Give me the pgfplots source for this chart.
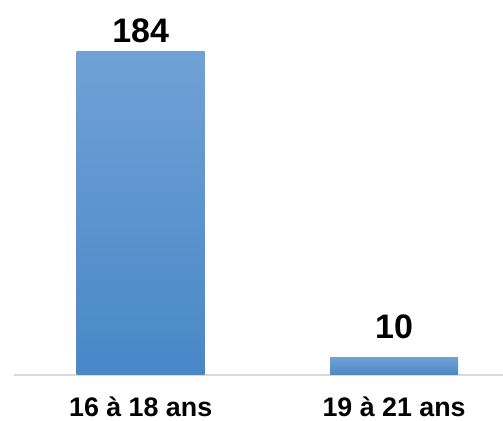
\documentclass[border=0pt]{standalone}
\usepackage{fontspec}
\setmainfont{Liberation Sans}
\usepackage{pgfplots}
\pgfplotsset{compat=1.18}
\definecolor{bartop}{RGB}{112,161,213}
\definecolor{barbot}{RGB}{72,136,200}
\definecolor{axisgray}{RGB}{217,217,217}
\begin{document}
\begin{tikzpicture}
\begin{axis}[
    scale only axis,
    width=244.5pt, height=187.5pt,
    xmin=-0.5, xmax=1.43,
    ymin=0, ymax=213.6,
    axis y line=none,
    axis x line*=bottom,
    x axis line style={draw=axisgray, line width=0.9pt, -},
    xtick={0,1},
    xticklabels={16 à 18 ans, 19 à 21 ans},
    major tick length=0pt,
    xticklabel style={font=\fontsize{13.4}{15}\selectfont\bfseries,
                      anchor=base, yshift=-21pt, text=black},
    ybar, bar width=64pt, bar shift=0pt,
    clip=false,
    /pgf/number format/assume math mode=true,
    nodes near coords={\pgfmathprintnumber{\pgfplotspointmeta}},
    every node near coord/.append style={font=\fontsize{17}{20}\selectfont\bfseries,
                                         anchor=base, text=black},
]
\addplot[draw=none, top color=bartop, bottom color=barbot,
         every node near coord/.append style={yshift=4.5pt}]
  coordinates {(0,184)};
\addplot[draw=none, top color=bartop, bottom color=barbot,
         every node near coord/.append style={yshift=9.5pt}]
  coordinates {(1,10)};
\end{axis}
\pgfresetboundingbox
\path[use as bounding box] (current axis.south west) ++(-7pt,-23pt)
  rectangle (current axis.north east);
\end{tikzpicture}
\end{document}
